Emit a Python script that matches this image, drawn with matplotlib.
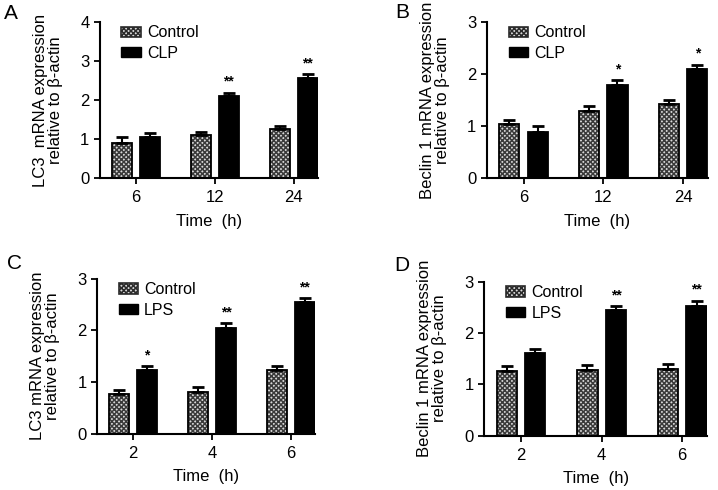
import matplotlib

matplotlib.use("Agg")
import matplotlib.pyplot as plt
from matplotlib.patches import Patch
import numpy as np

plt.rcParams["font.family"] = ["Liberation Sans", "DejaVu Sans"]
plt.rcParams["hatch.linewidth"] = 1.1

# panel A: LC3, CLP
a_times = ["6", "12", "24"]
a_ctrl = [0.89, 1.09, 1.25]
a_ctrl_err = [0.15, 0.10, 0.09]
a_trt = [1.05, 2.09, 2.56]
a_trt_err = [0.10, 0.10, 0.10]
a_stars = ["", "**", "**"]

# panel B: Beclin 1, CLP
b_times = ["6", "12", "24"]
b_ctrl = [1.03, 1.29, 1.42]
b_ctrl_err = [0.08, 0.09, 0.08]
b_trt = [0.89, 1.79, 2.09]
b_trt_err = [0.10, 0.09, 0.09]
b_stars = ["", "*", "*"]

# panel C: LC3, LPS
c_times = ["2", "4", "6"]
c_ctrl = [0.76, 0.81, 1.23]
c_ctrl_err = [0.08, 0.09, 0.09]
c_trt = [1.23, 2.04, 2.55]
c_trt_err = [0.08, 0.10, 0.08]
c_stars = ["*", "**", "**"]

# panel D: Beclin 1, LPS
d_times = ["2", "4", "6"]
d_ctrl = [1.26, 1.28, 1.29]
d_ctrl_err = [0.10, 0.09, 0.11]
d_trt = [1.62, 2.44, 2.53]
d_trt_err = [0.06, 0.08, 0.10]
d_stars = ["", "**", "**"]

W = 0.253
OFF = 0.177
FIG_W, FIG_H = 718, 490
HATCH = "xxxxxxx"


def draw_panel(rect, letter, letter_xy, times, ctrl, ctrl_err, trt, trt_err,
               stars, trt_name, ylabel, ymax):
    ax = fig.add_axes(rect)
    x = np.arange(len(times))
    # hatched fill for control, then black outline on top
    ax.bar(x - OFF, ctrl, W, color="#d8d8d8", edgecolor="#3a3a3a", hatch=HATCH,
           linewidth=0, zorder=2)
    ax.bar(x - OFF, ctrl, W, fill=False, edgecolor="black", linewidth=1.3, zorder=3)
    ax.bar(x + OFF, trt, W, color="black", edgecolor="black", linewidth=1.3, zorder=3)
    ax.errorbar(x - OFF, ctrl, yerr=[np.zeros(len(x)), ctrl_err], fmt="none",
                ecolor="black", elinewidth=1.5, capsize=4.5, capthick=2, zorder=4)
    ax.errorbar(x + OFF, trt, yerr=[np.zeros(len(x)), trt_err], fmt="none",
                ecolor="black", elinewidth=1.5, capsize=4.5, capthick=2, zorder=4)
    for xi, v, e, s in zip(x, trt, trt_err, stars):
        if s:
            ax.text(xi + OFF, v + e + 0.025 * ymax, s, ha="center", va="bottom",
                    fontsize=10, fontweight="bold")

    handles = [
        Patch(facecolor="#d8d8d8", edgecolor="#2a2a2a", hatch=HATCH, linewidth=1.2),
        Patch(facecolor="black", edgecolor="black"),
    ]
    ax.legend(handles, ["Control", trt_name], loc="upper left",
              bbox_to_anchor=(0.07, 1.02), frameon=False, fontsize=11.5,
              handlelength=1.2, handleheight=0.6, handletextpad=0.4,
              labelspacing=0.35, borderaxespad=0)

    ax.set_xlim(-0.46, 2.31)
    ax.set_ylim(0, ymax)
    ax.set_yticks(range(0, ymax + 1))
    ax.set_xticks(x)
    ax.set_xticklabels(times)
    ax.tick_params(labelsize=12, width=1.3, length=4, direction="out")
    ax.tick_params(axis="x", pad=5)
    for side in ("top", "right"):
        ax.spines[side].set_visible(False)
    for side in ("left", "bottom"):
        ax.spines[side].set_linewidth(1.5)
    ax.set_xlabel("Time  (h)", fontsize=12, labelpad=6)
    ax.set_ylabel(ylabel, fontsize=12, linespacing=1.05, labelpad=12)
    fig.text(letter_xy[0] / FIG_W, 1 - letter_xy[1] / FIG_H, letter, fontsize=15,
             ha="left", va="top")
    return ax


fig = plt.figure(figsize=(7.18, 4.9), dpi=100)

draw_panel([0.139, 0.637, 0.304, 0.318], "A", (4, 4), a_times, a_ctrl, a_ctrl_err,
           a_trt, a_trt_err, a_stars, "CLP",
           "LC3  mRNA expression\nrelative to β-actin", 4)
draw_panel([0.678, 0.637, 0.308, 0.318], "B", (395, 3), b_times, b_ctrl, b_ctrl_err,
           b_trt, b_trt_err, b_stars, "CLP",
           "Beclin 1 mRNA expression\nrelative to β-actin", 3)
draw_panel([0.135, 0.115, 0.304, 0.316], "C", (7, 254), c_times, c_ctrl, c_ctrl_err,
           c_trt, c_trt_err, c_stars, "LPS",
           "LC3 mRNA expression\nrelative to β-actin", 3)
draw_panel([0.674, 0.111, 0.311, 0.314], "D", (394, 256), d_times, d_ctrl, d_ctrl_err,
           d_trt, d_trt_err, d_stars, "LPS",
           "Beclin 1 mRNA expression\nrelative to β-actin", 3)

fig.savefig("out.png", dpi=100, facecolor="white")
plt.close(fig)
